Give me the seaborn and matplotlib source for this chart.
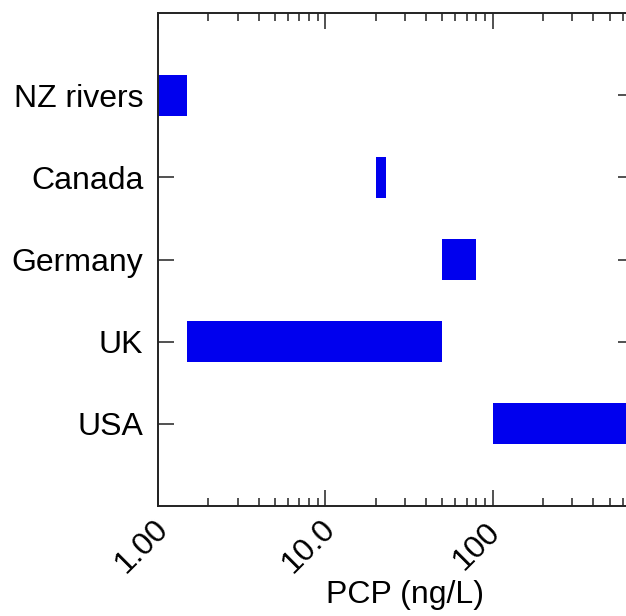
import matplotlib
matplotlib.use("Agg")
import matplotlib.pyplot as plt
import matplotlib.transforms as mtransforms
from matplotlib.ticker import LogLocator, NullFormatter, FixedLocator, FixedFormatter
import seaborn as sns
import pandas as pd

# PCP concentration ranges (ng/L) by region
regions = ["NZ rivers", "Canada", "Germany", "UK", "USA"]
range_low = [1.0, 20.0, 50.0, 1.5, 100.0]
range_high = [1.5, 23.0, 80.0, 50.0, 1000.0]

x_ticks = [1, 10, 100]
x_tick_labels = ["1.00", "10.0", "100"]

df = pd.DataFrame({"Region": regions, "Low": range_low, "High": range_high})
df["Span"] = df["High"] - df["Low"]

sns.set_style("ticks")
plt.rcParams["font.family"] = ["Liberation Sans", "DejaVu Sans"]

fig = plt.figure(figsize=(6.26, 6.16), dpi=100)
ax = fig.add_axes([158 / 626, 110 / 616, 476 / 626, 493 / 616])

# floating bars: start at Low, length Span
sns.barplot(ax=ax, data=df, x="Span", y="Region", order=regions, left=df["Low"].values,
            color="#0000EE", saturation=1, width=0.5, errorbar=None, edgecolor="none", linewidth=0)

ax.set_xscale("log")
ax.set_xlim(1, 700)
ax.set_ylim(5, -1)

ax.xaxis.set_major_locator(FixedLocator(x_ticks))
ax.xaxis.set_major_formatter(FixedFormatter(x_tick_labels))
ax.xaxis.set_minor_locator(LogLocator(base=10, subs=range(2, 10)))
ax.xaxis.set_minor_formatter(NullFormatter())

for side in ["top", "right", "bottom", "left"]:
    ax.spines[side].set_visible(True)
    ax.spines[side].set_color("#222222")
    ax.spines[side].set_linewidth(1.4)

ax.tick_params(axis="both", which="both", direction="in", top=True, right=True,
               color="#222222", width=1.1, labelsize=23, labelcolor="black")
ax.tick_params(axis="both", which="major", length=11.2)
ax.tick_params(axis="x", which="minor", length=5.8)
ax.tick_params(axis="x", which="major", pad=29)
ax.tick_params(axis="y", which="major", pad=10.5)

offset = mtransforms.ScaledTranslation(-16 / 100, 0, fig.dpi_scale_trans)
for lab in ax.get_xticklabels():
    lab.set_rotation(45)
    lab.set_rotation_mode("anchor")
    lab.set_ha("center")
    lab.set_va("center")
    lab.set_transform(lab.get_transform() + offset)

ax.set_ylabel("")
ax.set_xlabel("PCP (ng/L)", fontsize=23, color="black")
ax.xaxis.set_label_coords(0.518, -0.150)

fig.savefig("out.png", dpi=100)
plt.close(fig)
